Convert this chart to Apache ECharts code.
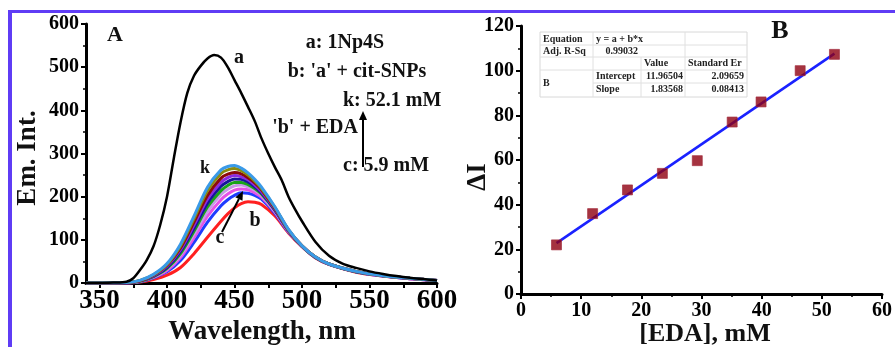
<!DOCTYPE html>
<html><head><meta charset="utf-8">
<script src="https://cdn.jsdelivr.net/npm/echarts@6/dist/echarts.min.js"></script>
<style>html,body{margin:0;padding:0;background:#fff}#c{width:895px;height:347px}</style>
</head><body><div id="c"></div>
<script>
// ---------- Panel A data ----------
const wlA    = [340,350,360,370,375,380,385,390,395,400,405,410,415,420,425,430,435,440,445,450,455,460,465,470,475,480,485,490,495,500,510,520,530,540,550,560,570,580,590,600];
const curveA = [0,0,1,3,11,30,53,85,135,200,288,372,440,480,503,520,528,522,500,470,440,408,375,335,300,268,238,200,170,143,95,63,45,35,27,21,16,12,9,6];

const wl     = [340,370,380,390,400,410,420,430,440,445,450,455,460,465,470,480,490,500,510,520,540,560,580,600];
const curveB = [0,0,2,8,18,36,68,106,143,160,174,184,188,187,182,155,116,84,58,43,25,16,10,6];
const curveC = [0,0,3,12,26,52,94,141,179,193,203,209,208,203,194,161,118,85,59,43,26,16,10,6];
const curveD = [0,0,4,13,29,59,105,155,193,206,215,218,216,209,199,164,119,85,59,43,26,16,10,6];
const curveE = [0,1,4,14,32,64,113,166,205,217,225,227,223,215,203,166,120,85,59,44,26,17,11,6];
const curveF = [0,1,4,15,34,68,120,176,214,226,233,233,228,219,206,168,121,85,59,44,26,17,11,6];
const curveG = [0,1,5,16,36,73,127,185,224,235,241,240,234,223,209,169,121,85,59,44,26,17,11,6];
const curveH = [0,1,5,17,39,77,134,194,233,244,249,246,239,227,212,171,122,86,60,44,27,17,11,6];
const curveI = [0,1,5,18,41,81,141,203,243,252,256,253,244,232,216,173,123,86,60,44,27,17,11,6];
const curveJ = [0,1,6,19,43,86,149,214,254,262,265,260,250,236,219,175,123,86,60,44,27,17,11,6];
const curveK = [0,1,6,20,45,90,155,222,262,270,272,266,255,240,222,176,124,86,60,44,27,17,11,6];

const wlTickValues  = [350,375,400,425,450,475,500,525,550,575,600];
const wlLabelValues = [350,400,450,500,550,600];

// ---------- Panel B data ----------
const edaConc = [5.9,11.9,17.7,23.5,29.3,35.1,39.9,46.4,52.1];
const deltaI  = [22,36,46.6,54,59.7,77,86,100,107.3];
const fitX = [5.9,52.1];
const fitY = [22.8,107.6];

// fit table text
const tableRows = [
  ['Equation','y = a + b*x','',''],
  ['Adj. R-Sq','0.99032','',''],
  ['','','Value','Standard Er'],
  ['B','Intercept','11.96504','2.09659'],
  ['','Slope','1.83568','0.08413']
];

// ---------- styles ----------
const SERIF = "'Liberation Serif','DejaVu Serif',serif";
const pairs = (xs, ys) => xs.map((x, i) => [x, ys[i]]);

const colored = [
  [curveB, '#ff2020'],
  [curveC, '#1e3cff'],
  [curveD, '#e651e6'],
  [curveE, '#c79ae8'],
  [curveF, '#1aa31a'],
  [curveG, '#15159a'],
  [curveH, '#8a2be2'],
  [curveI, '#8b0a0a'],
  [curveJ, '#8b8b10'],
  [curveK, '#3a9ae8']
];

const series = [];
colored.forEach(([ys, col]) => {
  series.push({type:'line', xAxisIndex:0, yAxisIndex:0, data:pairs(wl, ys), smooth:0.3,
    showSymbol:false, lineStyle:{color:col, width:3}});
});
series.push({type:'line', xAxisIndex:0, yAxisIndex:0, data:pairs(wlA, curveA), smooth:0.3,
  showSymbol:false, lineStyle:{color:'#000', width:2.5}});
series.push({type:'line', xAxisIndex:1, yAxisIndex:1, data:pairs(fitX, fitY),
  showSymbol:false, lineStyle:{color:'#1a22ff', width:2.6}, z:3});
series.push({type:'scatter', xAxisIndex:1, yAxisIndex:1, data:pairs(edaConc, deltaI),
  symbol:'rect', symbolSize:10, itemStyle:{color:'#8e0010', borderColor:'#a02838', borderWidth:0.8}, z:4});

const axisLineStyle = {show:true, onZero:false, lineStyle:{color:'#000', width:3}};
const tickStyle = {show:true, inside:false, length:5, lineStyle:{color:'#000', width:2}};
const minorStyle = {show:true, splitNumber:2, length:3, lineStyle:{color:'#000', width:1.5}};
const lbl = (size, margin) => ({color:'#000', fontFamily:SERIF, fontWeight:'bold', fontSize:size, margin:margin});

// graphic annotations
const g = [];
// border
g.push({type:'rect', shape:{x:8, y:10, width:887, height:3}, style:{fill:'#5f3cf5'}, z:100});
g.push({type:'rect', shape:{x:8, y:10, width:4, height:337}, style:{fill:'#5f3cf5'}, z:100});

function txt(t, x, y, size, align, rot) {
  g.push({type:'text', x:x, y:y, rotation:rot||0, z:50,
    style:{text:t, x:0, y:0, fontFamily:SERIF, fontWeight:'bold', fontSize:size, fill:'#111',
      textAlign:align||'center', textVerticalAlign:'middle', verticalAlign:'middle'}});
}
function arrow(x1, y1, x2, y2) {
  const ang = Math.atan2(y2 - y1, x2 - x1), L = 9, W = 4;
  const bx = x2 - L*Math.cos(ang), by = y2 - L*Math.sin(ang);
  g.push({type:'line', shape:{x1:x1, y1:y1, x2:bx, y2:by}, style:{stroke:'#000', lineWidth:2}, z:50});
  g.push({type:'polygon', shape:{points:[[x2,y2],[bx + W*Math.sin(ang), by - W*Math.cos(ang)],[bx - W*Math.sin(ang), by + W*Math.cos(ang)]]},
    style:{fill:'#000'}, z:50});
}
// panel A texts
txt('A', 115, 35, 22);
txt('a: 1Np4S', 345, 43, 20);
txt("b: 'a' + cit-SNPs", 357, 72, 20);
txt('k: 52.1 mM', 343, 101, 20, 'left');
txt("'b' + EDA", 358, 128, 20, 'right');
txt('c: 5.9 mM', 343, 166, 20, 'left');
arrow(363, 167, 363, 111);
txt('a', 239, 58, 20);
txt('k', 205, 168, 18);
txt('b', 255, 221, 20);
txt('c', 220, 238, 20);
arrow(222, 232, 243, 191);
txt('Wavelength, nm', 262, 332, 27);
txt('Em. Int.', 28, 158, 27, 'center', Math.PI/2);
// panel B texts
txt('B', 780, 31, 26);
txt('[EDA], mM', 705, 334, 26);
txt('\u0394I', 478, 177, 27, 'center', Math.PI/2);

// fit table
const tx = [540, 593, 641, 685, 747];
const ty = [32, 45, 57, 70, 83, 97];
g.push({type:'rect', shape:{x:tx[0], y:ty[0], width:tx[4]-tx[0], height:ty[5]-ty[0]}, style:{fill:'#fff', stroke:'#d8d8d8', lineWidth:1}, z:40});
for (let r = 1; r < 5; r++) {
  const xs = (r === 4) ? tx[1] : tx[0];
  g.push({type:'line', shape:{x1:xs, y1:ty[r], x2:tx[4], y2:ty[r]}, style:{stroke:'#e0e0e0', lineWidth:1}, z:41});
}
g.push({type:'line', shape:{x1:tx[1], y1:ty[0], x2:tx[1], y2:ty[5]}, style:{stroke:'#e0e0e0', lineWidth:1}, z:41});
g.push({type:'line', shape:{x1:tx[3], y1:ty[0], x2:tx[3], y2:ty[5]}, style:{stroke:'#e0e0e0', lineWidth:1}, z:41});
g.push({type:'line', shape:{x1:tx[2], y1:ty[2], x2:tx[2], y2:ty[5]}, style:{stroke:'#e0e0e0', lineWidth:1}, z:41});
function ttxt(t, x, y, align) {
  g.push({type:'text', x:x, y:y, z:45, style:{text:t, x:0, y:0, fontFamily:SERIF, fontWeight:'bold', fontSize:10, fill:'#222',
    textAlign:align, textVerticalAlign:'middle', verticalAlign:'middle'}});
}
const rowY = [39, 51, 63.5, 76.5, 89.5];
ttxt(tableRows[0][0], 543, rowY[0], 'left');
ttxt(tableRows[0][1], 596, rowY[0], 'left');
ttxt(tableRows[1][0], 543, rowY[1], 'left');
ttxt(tableRows[1][1], 638, rowY[1], 'right');
ttxt(tableRows[2][2], 644, rowY[2], 'left');
ttxt(tableRows[2][3], 688, rowY[2], 'left');
ttxt(tableRows[3][0], 543, 83, 'left');
ttxt(tableRows[3][1], 596, rowY[3], 'left');
ttxt(tableRows[3][2], 683, rowY[3], 'right');
ttxt(tableRows[3][3], 744, rowY[3], 'right');
ttxt(tableRows[4][1], 596, rowY[4], 'left');
ttxt(tableRows[4][2], 683, rowY[4], 'right');
ttxt(tableRows[4][3], 744, rowY[4], 'right');

const option = {
  animation:false,
  backgroundColor:'#fff',
  grid:[
    {left:86, top:24, width:351, height:259},
    {left:521, top:26, width:367, height:268}
  ],
  xAxis:[
    {type:'value', gridIndex:0, min:340, max:600,
     axisLine:axisLineStyle,
     axisTick:Object.assign({}, tickStyle, {customValues:wlTickValues}),
     axisLabel:Object.assign(lbl(27, 5), {customValues:wlLabelValues}),
     splitLine:{show:false}},
    {type:'value', gridIndex:1, min:0, max:60, interval:10,
     axisLine:axisLineStyle, axisTick:tickStyle, minorTick:minorStyle,
     axisLabel:lbl(20, 7), splitLine:{show:false}, minorSplitLine:{show:false}}
  ],
  yAxis:[
    {type:'value', gridIndex:0, min:0, max:600, interval:100,
     axisLine:axisLineStyle, axisTick:tickStyle, minorTick:minorStyle,
     axisLabel:lbl(20, 7), splitLine:{show:false}, minorSplitLine:{show:false}},
    {type:'value', gridIndex:1, min:0, max:120, interval:20,
     axisLine:axisLineStyle, axisTick:tickStyle, minorTick:minorStyle,
     axisLabel:lbl(20, 7), splitLine:{show:false}, minorSplitLine:{show:false}}
  ],
  graphic:{elements:g},
  series:series
};
const chart = echarts.init(document.getElementById('c'), null, {renderer:'canvas'});
chart.setOption(option);
</script></body></html>
